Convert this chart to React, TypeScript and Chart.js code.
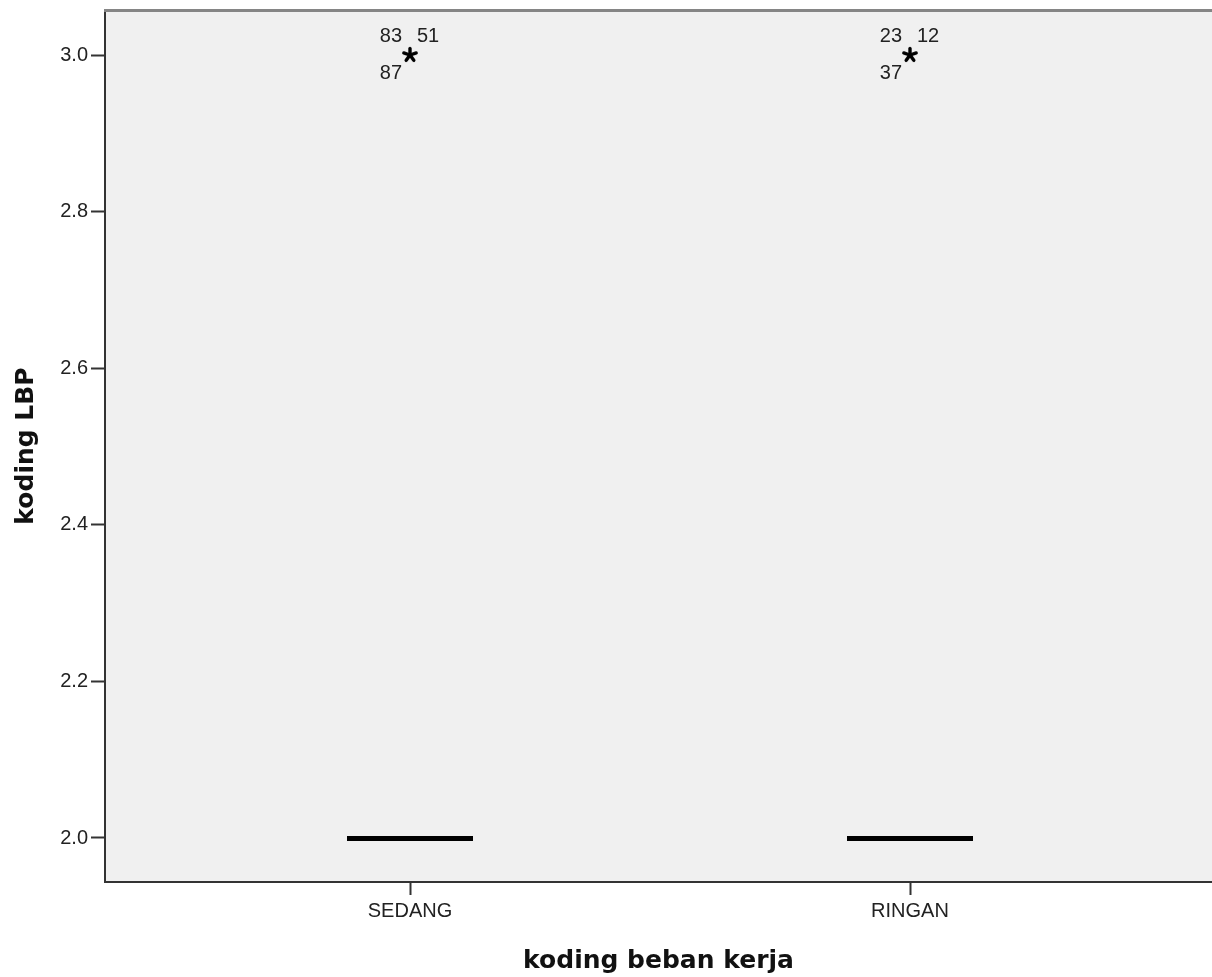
import React, { useEffect, useRef } from 'react';
import { Chart, registerables } from 'chart.js';

Chart.register(...registerables);

const categories = ['SEDANG', 'RINGAN'];
const categoryPositions = [1, 2];
const medians = [2, 2];
const outlierValues = [3, 3];
const outlierIdsLeftTop = ['83', '23'];
const outlierIdsRightTop = ['51', '12'];
const outlierIdsLeftBottom = ['87', '37'];
const yTickValues = [2.0, 2.2, 2.4, 2.6, 2.8, 3.0];

const X_MIN = 0.39;
const X_MAX = 2.604;
const Y_MIN = 1.9438;
const Y_MAX = 3.0575;

const TICK_FONT = { family: '"Liberation Sans", Arial, sans-serif', size: 20 };
const TITLE_FONT = { family: '"DejaVu Sans", sans-serif', size: 25, weight: 'bold' as const };

function makeAsterisk(): HTMLCanvasElement {
  const c = document.createElement('canvas');
  c.width = 18;
  c.height = 18;
  const ctx = c.getContext('2d')!;
  ctx.strokeStyle = '#000';
  ctx.lineWidth = 3.4;
  ctx.lineCap = 'round';
  const cx = 9, cy = 9, r = 6.5;
  for (let k = 0; k < 5; k++) {
    const a = -Math.PI / 2 + (k * 2 * Math.PI) / 5;
    ctx.beginPath();
    ctx.moveTo(cx, cy);
    ctx.lineTo(cx + r * Math.cos(a), cy + r * Math.sin(a));
    ctx.stroke();
  }
  return c;
}

const plotBgPlugin = {
  id: 'plotBg',
  beforeDraw(chart: any) {
    const { ctx, chartArea } = chart;
    ctx.save();
    ctx.fillStyle = '#f0f0f0';
    ctx.fillRect(chartArea.left, chartArea.top, chartArea.right - chartArea.left, chartArea.bottom - chartArea.top);
    ctx.restore();
  },
  afterDraw(chart: any) {
    const { ctx, chartArea } = chart;
    ctx.save();
    ctx.strokeStyle = '#858585';
    ctx.lineWidth = 3;
    ctx.beginPath();
    ctx.moveTo(chartArea.left - 1, chartArea.top + 0.5);
    ctx.lineTo(chartArea.right, chartArea.top + 0.5);
    ctx.stroke();
    ctx.restore();
  },
};

const medianPlugin = {
  id: 'medians',
  afterDatasetsDraw(chart: any) {
    const { ctx } = chart;
    const xs = chart.scales.x;
    const ys = chart.scales.y;
    ctx.save();
    ctx.strokeStyle = '#000';
    ctx.lineWidth = 5;
    ctx.lineCap = 'butt';
    medians.forEach((m, i) => {
      const x0 = xs.getPixelForValue(categoryPositions[i] - 0.126);
      const x1 = xs.getPixelForValue(categoryPositions[i] + 0.126);
      const y = ys.getPixelForValue(m);
      ctx.beginPath();
      ctx.moveTo(x0, y + 0.5);
      ctx.lineTo(x1, y + 0.5);
      ctx.stroke();
    });
    ctx.restore();
  },
};

const outlierLabelPlugin = {
  id: 'outlierLabels',
  afterDatasetsDraw(chart: any) {
    const { ctx } = chart;
    const xs = chart.scales.x;
    const ys = chart.scales.y;
    ctx.save();
    ctx.fillStyle = '#222';
    ctx.font = '20px "Liberation Sans", Arial, sans-serif';
    ctx.textBaseline = 'middle';
    outlierValues.forEach((v, i) => {
      const px = xs.getPixelForValue(categoryPositions[i]);
      const py = ys.getPixelForValue(v);
      ctx.textAlign = 'right';
      ctx.fillText(outlierIdsLeftTop[i], px - 8, py - 19);
      ctx.fillText(outlierIdsLeftBottom[i], px - 8, py + 18);
      ctx.textAlign = 'left';
      ctx.fillText(outlierIdsRightTop[i], px + 7, py - 19);
    });
    ctx.restore();
  },
};

export default function App() {
  const ref = useRef<HTMLCanvasElement | null>(null);

  useEffect(() => {
    if (!ref.current) return;
    const asterisk = makeAsterisk();
    const chart = new Chart(ref.current, {
      type: 'scatter',
      data: {
        datasets: [
          {
            label: 'outliers',
            data: outlierValues.map((v, i) => ({ x: categoryPositions[i], y: v })),
            pointStyle: asterisk as any,
            pointRadius: 7,
            backgroundColor: '#000',
            borderColor: '#000',
          },
        ],
      },
      options: {
        animation: false,
        responsive: false,
        events: [],
        layout: { autoPadding: false, padding: { top: 10, left: 0, right: 0, bottom: 0 } },
        plugins: {
          legend: { display: false },
          tooltip: { enabled: false },
        },
        scales: {
          x: {
            type: 'linear',
            min: X_MIN,
            max: X_MAX,
            afterBuildTicks: (scale: any) => {
              scale.ticks = categoryPositions.map((v) => ({ value: v }));
            },
            afterFit: (scale: any) => {
              scale.height = 95;
              scale.paddingLeft = 0;
              scale.paddingRight = 0;
              scale.paddingTop = 0;
              scale.paddingBottom = 0;
            },
            ticks: {
              font: TICK_FONT,
              color: '#222',
              padding: 4,
              autoSkip: false,
              maxRotation: 0,
              callback: (value: any) => categories[categoryPositions.indexOf(Number(value))] ?? '',
            },
            grid: {
              drawOnChartArea: false,
              drawTicks: true,
              tickLength: 13,
              tickWidth: 2,
              tickColor: '#333',
            },
            border: { display: true, color: '#333', width: 2 },
            title: {
              display: true,
              text: 'koding beban kerja',
              font: TITLE_FONT,
              color: '#111',
              padding: { top: 4, bottom: 1 },
            },
          },
          y: {
            type: 'linear',
            min: Y_MIN,
            max: Y_MAX,
            afterBuildTicks: (scale: any) => {
              scale.ticks = yTickValues.map((v) => ({ value: v }));
            },
            afterFit: (scale: any) => {
              scale.width = 105;
              scale.paddingTop = 0;
              scale.paddingBottom = 0;
              scale.paddingLeft = 0;
              scale.paddingRight = 0;
            },
            ticks: {
              font: TICK_FONT,
              color: '#222',
              padding: 3,
              callback: (value: any) => Number(value).toFixed(1),
            },
            grid: {
              drawOnChartArea: false,
              drawTicks: true,
              tickLength: 14,
              tickWidth: 2,
              tickColor: '#333',
            },
            border: { display: true, color: '#333', width: 2 },
            title: {
              display: true,
              text: 'koding LBP',
              font: TITLE_FONT,
              color: '#111',
              padding: { top: 11, bottom: 4 },
            },
          },
        },
      },
      plugins: [plotBgPlugin, medianPlugin, outlierLabelPlugin],
    });
    return () => chart.destroy();
  }, []);

  return (
    <div style={{ position: 'absolute', left: 0, top: 0, width: 1212, height: 977, background: '#fff' }}>
      <canvas ref={ref} width={1212} height={977} style={{ width: 1212, height: 977, display: 'block' }} />
    </div>
  );
}
